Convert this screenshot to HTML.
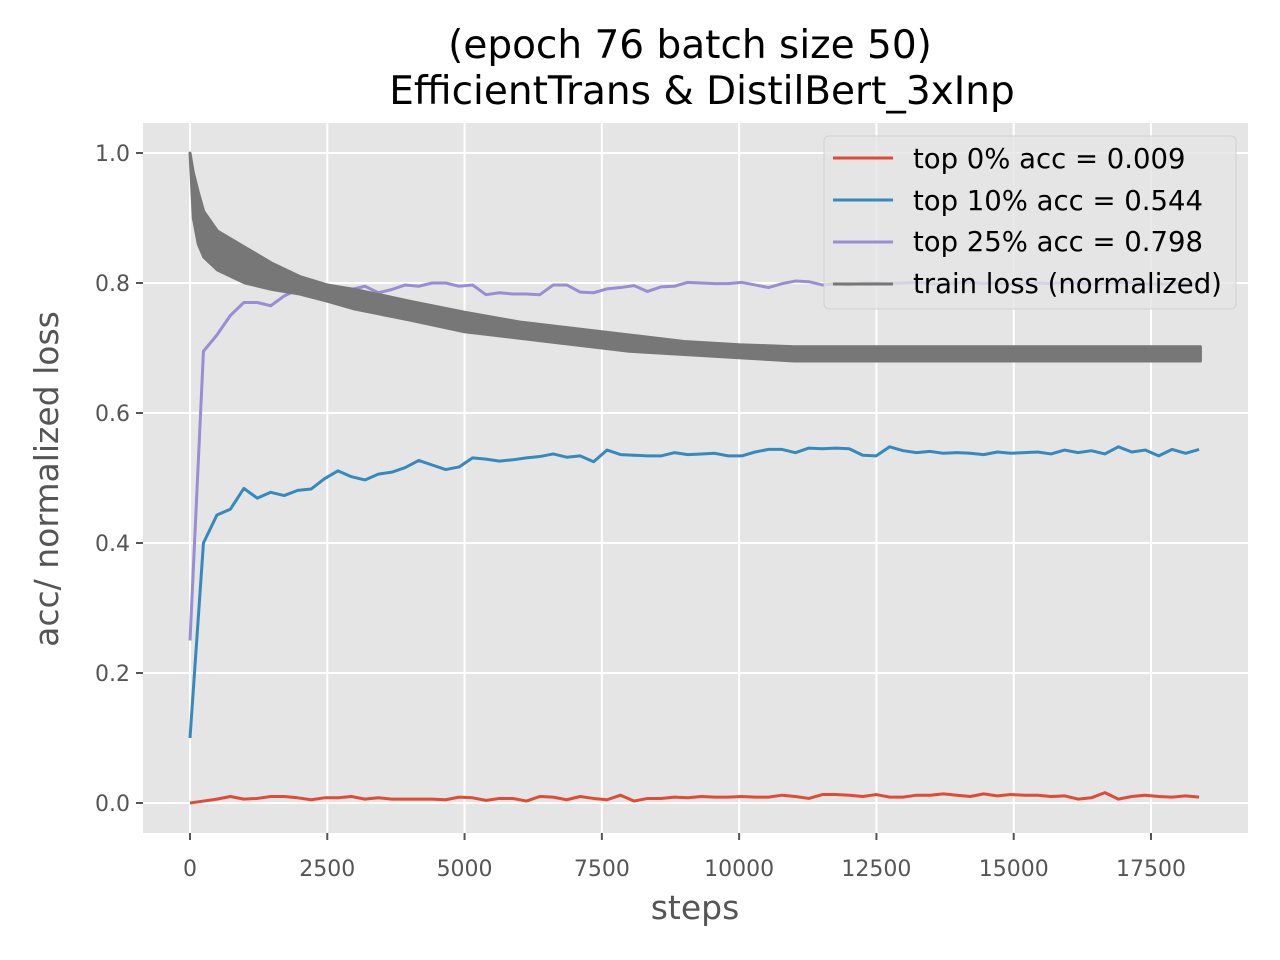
<!DOCTYPE html>
<html><head><meta charset="utf-8"><style>
html,body{margin:0;padding:0;background:#fff}
svg{display:block;font-family:"DejaVu Sans","Liberation Sans",sans-serif}
</style></head><body>
<svg id="chart" width="1280" height="960">
<text x="690" y="58" font-size="39" text-anchor="middle" fill="#000">(epoch 76 batch size 50)</text>
<text x="702" y="104" font-size="39" text-anchor="middle" fill="#000">EfficientTrans &amp; DistilBert_3xInp</text>
<rect x="143" y="123" width="1105" height="710" fill="#e5e5e5"/>
<g id="grid"></g>
<g id="series"></g>
<g id="ticks"></g>
<text x="695" y="919" font-size="33" text-anchor="middle" fill="#555">steps</text>
<text transform="translate(58,479) rotate(-90)" font-size="33" text-anchor="middle" fill="#555">acc/ normalized loss</text>
<g id="legend">
<rect x="824" y="136" width="412" height="173" rx="5" fill="#e5e5e5" fill-opacity="0.8" stroke="#ccc" stroke-opacity="0.8"/>
<line x1="833" y1="158" x2="893" y2="158" stroke="#E24A33" stroke-width="3"/>
<text x="913" y="168" font-size="27.5">top 0% acc = 0.009</text>
<line x1="833" y1="200" x2="893" y2="200" stroke="#348ABD" stroke-width="3"/>
<text x="913" y="210" font-size="27.5">top 10% acc = 0.544</text>
<line x1="833" y1="242" x2="893" y2="242" stroke="#988ED5" stroke-width="3"/>
<text x="913" y="251" font-size="27.5">top 25% acc = 0.798</text>
<line x1="833" y1="284" x2="893" y2="284" stroke="#777" stroke-width="3"/>
<text x="913" y="293" font-size="27.5">train loss (normalized)</text>
</g>
</svg>
<script>
const stepSize = 245;
const top10 = [0.1,0.40,0.443,0.452,0.484,0.469,0.478,0.473,0.481,0.483,0.499,0.511,0.502,0.497,0.506,0.509,0.516,0.527,0.520,0.513,0.517,0.531,0.529,0.526,0.528,0.531,0.533,0.537,0.532,0.534,0.525,0.543,0.536,0.535,0.534,0.534,0.539,0.536,0.537,0.538,0.534,0.534,0.540,0.544,0.544,0.539,0.546,0.545,0.546,0.545,0.535,0.534,0.548,0.542,0.539,0.541,0.538,0.539,0.538,0.536,0.540,0.538,0.539,0.540,0.537,0.543,0.539,0.542,0.537,0.548,0.540,0.543,0.534,0.544,0.538,0.544];
const top25 = [0.25,0.695,0.72,0.75,0.77,0.77,0.765,0.78,0.79,0.79,0.795,0.79,0.79,0.795,0.785,0.79,0.797,0.795,0.80,0.80,0.795,0.797,0.782,0.785,0.783,0.783,0.782,0.797,0.797,0.786,0.785,0.791,0.793,0.796,0.787,0.794,0.795,0.801,0.800,0.799,0.799,0.801,0.797,0.793,0.799,0.803,0.802,0.797,0.799,0.797,0.800,0.800,0.799,0.800,0.801,0.799,0.798,0.800,0.801,0.799,0.800,0.798,0.799,0.800,0.799,0.801,0.800,0.798,0.799,0.800,0.801,0.799,0.798,0.799,0.800,0.798];
const top0 = [0.0,0.003,0.006,0.010,0.006,0.007,0.010,0.010,0.008,0.005,0.008,0.008,0.010,0.006,0.008,0.006,0.006,0.006,0.006,0.005,0.009,0.008,0.004,0.007,0.007,0.003,0.010,0.009,0.005,0.010,0.007,0.005,0.012,0.003,0.007,0.007,0.009,0.008,0.010,0.009,0.009,0.010,0.009,0.009,0.012,0.010,0.007,0.013,0.013,0.012,0.010,0.013,0.009,0.009,0.012,0.012,0.014,0.012,0.010,0.014,0.011,0.013,0.012,0.012,0.010,0.011,0.006,0.008,0.016,0.006,0.010,0.012,0.010,0.009,0.011,0.009];
const lossSteps = [0,60,150,250,500,1000,1500,2000,2500,3000,4000,5000,6000,7000,8000,9000,10000,11000,12000,14000,16000,18400];
const lossUpper = [1.0,0.97,0.94,0.91,0.88,0.855,0.83,0.81,0.797,0.79,0.772,0.755,0.74,0.73,0.72,0.71,0.705,0.702,0.702,0.702,0.702,0.702];
const lossLower = [1.0,0.90,0.86,0.84,0.82,0.80,0.79,0.783,0.772,0.76,0.743,0.725,0.715,0.705,0.695,0.69,0.685,0.68,0.68,0.68,0.68,0.68];
const xTicks = [0,2500,5000,7500,10000,12500,15000,17500];
const yTicks = [0.0,0.2,0.4,0.6,0.8,1.0];

const X = s => 190 + s * (961/17500);
const Y = v => 803 - v * 650;
const NS = "http://www.w3.org/2000/svg";
const grid = document.getElementById('grid');
const ticks = document.getElementById('ticks');
const series = document.getElementById('series');
function mk(tag, attrs, parent){const e=document.createElementNS(NS,tag);for(const k in attrs)e.setAttribute(k,attrs[k]);parent.appendChild(e);return e;}
xTicks.forEach(t=>{
  const l=mk('line',{x1:X(t),x2:X(t),y1:123,y2:833,stroke:'#fff','stroke-width':2},grid);
  
  
  const tk=mk('line',{x1:X(t),x2:X(t),y1:833,y2:840,stroke:'#555','stroke-width':2},ticks);
  
  
  const tx=mk('text',{x:X(t),y:876,'font-size':22,'text-anchor':'middle',fill:'#555'},ticks);
  tx.textContent=String(t);
  
  
});
yTicks.forEach(t=>{
  const l=mk('line',{x1:143,x2:1248,y1:Y(t),y2:Y(t),stroke:'#fff','stroke-width':2},grid);
  
  
  const tk=mk('line',{x1:136,x2:143,y1:Y(t),y2:Y(t),stroke:'#555','stroke-width':2},ticks);
  
  
  const tx=mk('text',{x:130,y:Y(t)+8,'font-size':22,'text-anchor':'end',fill:'#555'},ticks);
  tx.textContent=t.toFixed(1);
  
  
});
function line(arr,color,name){
  const p=mk('polyline',{points:arr.map((v,i)=>X(i*stepSize)+','+Y(v)).join(' '),fill:'none',stroke:color,'stroke-width':3,'stroke-linejoin':'round'},series);
  
  
}
line(top0,'#E24A33','top0-acc-line');
line(top10,'#348ABD','top10-acc-line');
line(top25,'#988ED5','top25-acc-line');
let pts=lossSteps.map((s,i)=>X(s)+','+Y(lossUpper[i]));
for(let i=lossSteps.length-1;i>=0;i--)pts.push(X(lossSteps[i])+','+Y(lossLower[i]));
const band=mk('polygon',{points:pts.join(' '),fill:'#777',stroke:'#777','stroke-width':3,'stroke-linejoin':'round'},series);


</script>
</body></html>
